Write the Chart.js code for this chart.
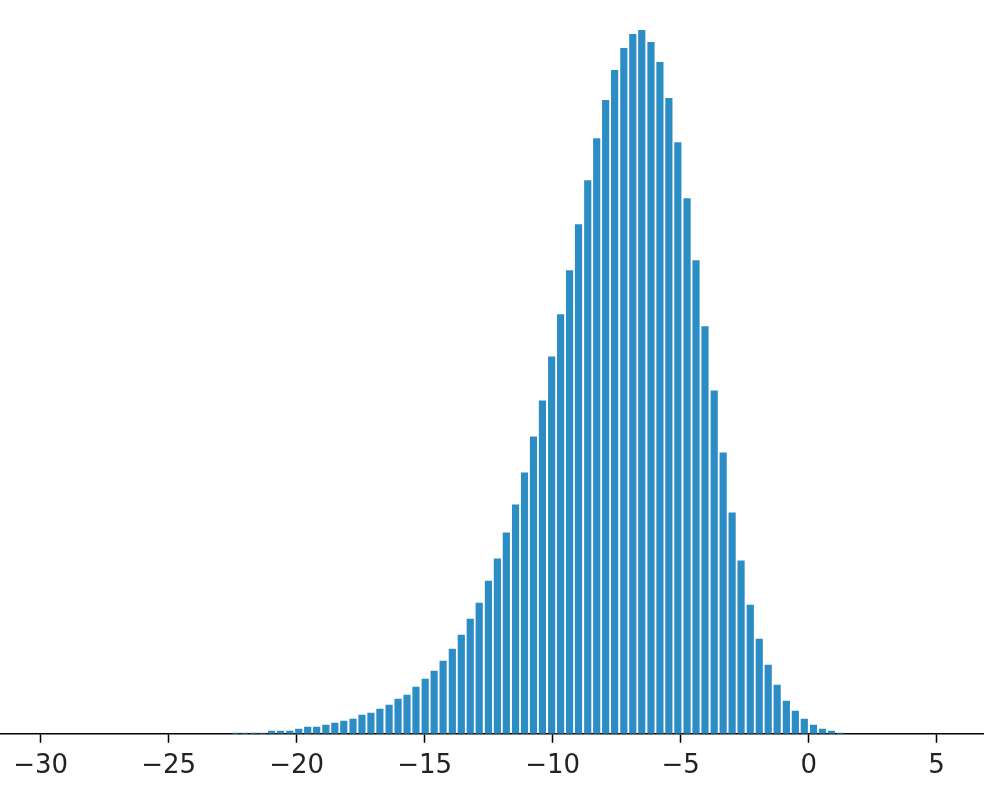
<!DOCTYPE html>
<html lang="en">
<head>
    <meta charset="UTF-8">
    <title>Histogram</title>
    <script src="https://cdn.jsdelivr.net/npm/chart.js"></script>
    <style>
        body {
            margin: 0;
            padding: 0;
            background: #fff;
        }
        #chart {
            display: block;
        }
    </style>
</head>
<body>
    <canvas id="chart" width="984" height="786"></canvas>
    <script>
        // bin centres (x) and bar heights
        const binCenters = [
            -22.39, -22.04, -21.68, -21.33, -20.98, -20.63, -20.27, -19.92, -19.57, -19.22,
            -18.86, -18.51, -18.16, -17.80, -17.45, -17.10, -16.75, -16.39, -16.04, -15.69,
            -15.34, -14.98, -14.63, -14.28, -13.92, -13.57, -13.22, -12.87, -12.51, -12.16,
            -11.81, -11.45, -11.10, -10.75, -10.40, -10.04, -9.69, -9.34, -8.99, -8.63,
            -8.28, -7.93, -7.58, -7.22, -6.87, -6.52, -6.16, -5.81, -5.46, -5.11,
            -4.75, -4.40, -4.05, -3.69, -3.34, -2.99, -2.64, -2.28, -1.93, -1.58,
            -1.23, -0.87, -0.52, -0.17, 0.19, 0.54, 0.89, 1.24
        ];
        const counts = [
            1, 1, 1, 1, 3, 3, 3, 5, 7, 7,
            9, 11, 13, 15, 19, 21, 25, 29, 35, 39,
            47, 55, 63, 73, 85, 99, 115, 131, 153, 175,
            201, 229, 261, 297, 333, 377, 419, 463, 509, 553,
            595, 633, 663, 685, 699, 703, 691, 671, 635, 591,
            535, 473, 407, 343, 281, 221, 173, 129, 95, 69,
            49, 33, 23, 15, 9, 5, 3, 1
        ];
        const xTicks = [-30, -25, -20, -15, -10, -5, 0, 5];

        const points = binCenters.map((x, i) => ({ x: x, y: counts[i] }));

        const ctx = document.getElementById('chart').getContext('2d');
        const chart = new Chart(ctx, {
            type: 'bar',
            data: {
                datasets: [{
                    data: points,
                    backgroundColor: '#2C8CC4',
                    borderWidth: 0,
                    barPercentage: 0.8,
                    categoryPercentage: 1.0
                }]
            },
            options: {
                responsive: false,
                animation: false,
                layout: { padding: 0 },
                plugins: {
                    legend: { display: false },
                    tooltip: { enabled: false }
                },
                scales: {
                    x: {
                        type: 'linear',
                        min: -31.59,
                        max: 6.85,
                        offset: false,
                        afterBuildTicks: (axis) => {
                            axis.ticks = xTicks.map(v => ({ value: v }));
                        },
                        afterFit: (axis) => {
                            // pull the axis down to where the reference has it
                            axis.height -= 4;
                        },
                        grid: {
                            offset: false,
                            drawOnChartArea: false,
                            drawTicks: true,
                            tickLength: 9,
                            tickColor: '#000',
                            tickWidth: 1.5
                        },
                        border: {
                            display: true,
                            color: '#000',
                            width: 1.5
                        },
                        ticks: {
                            color: '#222',
                            padding: 8,
                            maxRotation: 0,
                            autoSkip: false,
                            font: { family: 'DejaVu Sans', size: 26 },
                            callback: (v) => v < 0 ? '\u2212' + Math.abs(v) : String(v)
                        }
                    },
                    y: {
                        display: false,
                        min: 0,
                        max: 733
                    }
                }
            }
        });
    </script>
</body>
</html>
